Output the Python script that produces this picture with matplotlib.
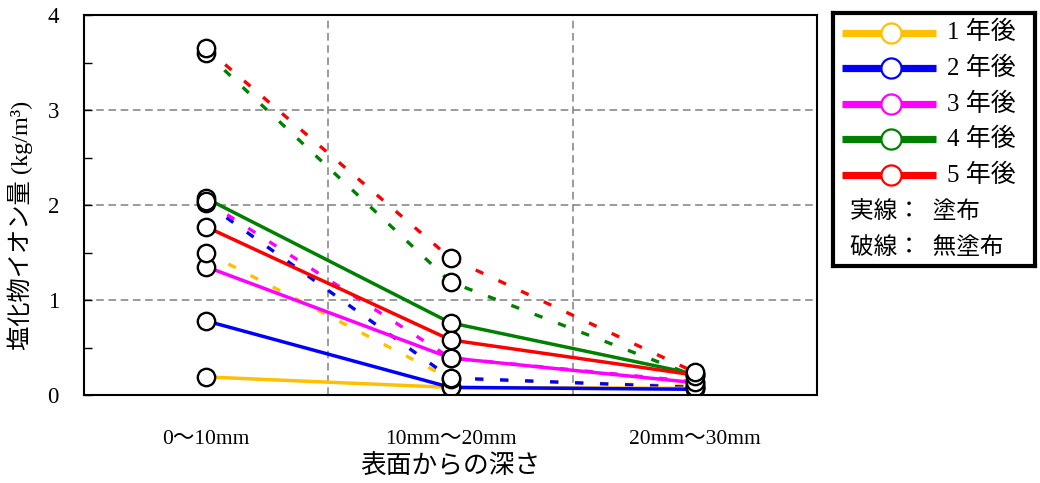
import numpy as np
import matplotlib
matplotlib.use("Agg")
import matplotlib.pyplot as plt
from matplotlib.lines import Line2D

# ---- data ----
categories = ["0〜10mm", "10mm〜20mm", "20mm〜30mm"]
year_labels = ["1 年後", "2 年後", "3 年後", "4 年後", "5 年後"]
colors = ["#FFC000", "#0000FF", "#FF00FF", "#008000", "#FF0000"]

# coated (solid lines)
coated_y1 = [0.19, 0.08, 0.07]
coated_y2 = [0.78, 0.08, 0.06]
coated_y3 = [1.35, 0.39, 0.13]
coated_y4 = [2.07, 0.76, 0.22]
coated_y5 = [1.77, 0.58, 0.21]
# uncoated (dashed lines)
uncoated_y1 = [1.50, 0.17, 0.09]
uncoated_y2 = [2.02, 0.18, 0.08]
uncoated_y3 = [2.04, 0.39, 0.14]
uncoated_y4 = [3.60, 1.19, 0.20]
uncoated_y5 = [3.65, 1.44, 0.24]

coated = [coated_y1, coated_y2, coated_y3, coated_y4, coated_y5]
uncoated = [uncoated_y1, uncoated_y2, uncoated_y3, uncoated_y4, uncoated_y5]

legend_note1 = "実線：  塗布"
legend_note2 = "破線：  無塗布"
xlabel = "表面からの深さ"
ylabel = "塩化物イオン量 (kg/m³)"

FONT = ["Liberation Serif", "Noto Sans CJK JP"]
plt.rcParams["font.family"] = FONT

W, H = 1040, 483
fig = plt.figure(figsize=(W / 100, H / 100), dpi=100)
ax = fig.add_axes([84 / W, 1 - 395 / H, 733 / W, 380 / H])

x = np.arange(len(categories)) + 0.5

for vals, c in zip(uncoated, colors):
    ax.plot(x, vals, color=c, lw=2.4, linestyle=(0, (2.5, 5.0)),
            solid_capstyle="butt", dash_capstyle="butt", zorder=3)
for vals, c in zip(coated, colors):
    ax.plot(x, vals, color=c, lw=2.5, linestyle="-", zorder=3)
for vals in coated + uncoated:
    ax.plot(x, vals, linestyle="none", marker="o", ms=12.5, mfc="white",
            mec="black", mew=1.7, zorder=4)

ax.set_xlim(0, 3)
ax.set_ylim(0, 4)
ax.set_xticks(x)
ax.set_xticklabels(categories, fontsize=15.5)
ax.set_xticks([1, 2], minor=True)
ax.tick_params(axis="x", which="both", length=0, pad=25)
ax.set_yticks([0, 1, 2, 3, 4])
ax.set_yticks(np.arange(0, 4.01, 0.5), minor=True)
ax.tick_params(axis="y", which="both", direction="in", length=6, width=1, labelsize=16.5, pad=18)
ax.grid(True, which="minor", axis="x", color="#808080", lw=1.1, linestyle=(0, (5, 3)))
ax.grid(True, which="major", axis="y", color="#808080", lw=1.1, linestyle=(0, (5, 3)))
ax.set_axisbelow(True)
for s in ax.spines.values():
    s.set_linewidth(1.5)
    s.set_zorder(5)

ax.set_xlabel(xlabel, fontsize=18.5)
ax.xaxis.set_label_coords(0.5, -0.158)
ax.set_ylabel(ylabel, fontsize=17.5)
ax.yaxis.set_label_coords(-0.069, 0.447)

# ---- legend box ----
lx0, ly0, lx1, ly1 = 833, 13, 1035, 266
lax = fig.add_axes([lx0 / W, 1 - ly1 / H, (lx1 - lx0) / W, (ly1 - ly0) / H])
lax.set_xlim(0, lx1 - lx0)
lax.set_ylim(ly1 - ly0, 0)
lax.set_xticks([])
lax.set_yticks([])
for s in lax.spines.values():
    s.set_linewidth(3)
rows = [19.7, 55.3, 91, 126.3, 162]
for r, c, lab in zip(rows, colors, year_labels):
    lax.add_line(Line2D([9, 103], [r, r], color=c, lw=5.2, solid_capstyle="butt"))
    lax.add_line(Line2D([57.7], [r], marker="o", ms=14.5, mfc="white", mec=c, mew=1.6))
    lax.text(114, r, lab, fontsize=18, va="center", ha="left")
lax.text(17, 198.7, legend_note1, fontsize=17, va="center", ha="left")
lax.text(17, 235, legend_note2, fontsize=17, va="center", ha="left")

fig.savefig("out.png", dpi=100)
